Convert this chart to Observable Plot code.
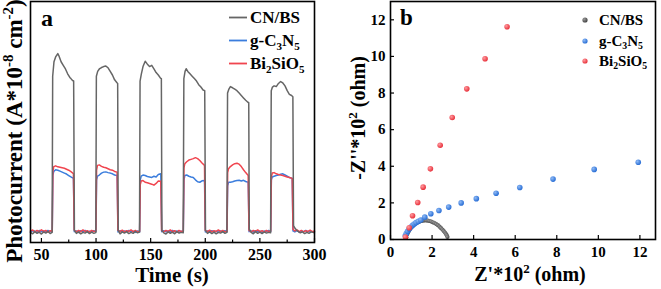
<!DOCTYPE html>
<html><head><meta charset="utf-8">
<script src="https://cdn.jsdelivr.net/npm/d3@7"></script>
<script src="https://cdn.jsdelivr.net/npm/@observablehq/plot@0.6"></script>
<style>
body{margin:0;background:#fff;}
#wrap{position:relative;width:661px;height:289px;overflow:hidden;background:#fff;}
#wrap svg{position:absolute;top:0;}
</style></head><body><div id="wrap"></div>
<script>
const FONT = '"Liberation Serif","Times New Roman",serif';
const seriesNames = ["CN/BS", "g-C3N5", "Bi2SiO5"];
const colors = ["#666666", "#3b7ddd", "#f0454f"];

// ---- Panel a: photocurrent (time s, current arbitrary units) ----
const timeTicks = [50, 100, 150, 200, 250, 300];
const timeMinorTicks = [75, 125, 175, 225, 275];
const cnbsCurrent = [
[40,0.42],[42,0.36],[44,0.45],[46,0.38],[48,0.43],[50,0.35],[52,0.44],[54,0.39],[56,0.46],[58,0.37],[59.8,0.42],
[60.3,6.9],[61.5,7.5],[63,7.7],[65,7.84],[66,7.75],[68,7.5],[70,7.35],[72,7.2],[74,7.0],[76,6.85],[77,6.8],[78.5,6.72],[79.5,6.7],
[80.2,0.5],[82,0.38],[84,0.44],[86,0.36],[88,0.42],[90,0.39],[92,0.45],[94,0.37],[96,0.43],[98,0.38],[99.8,0.41],
[100.3,6.9],[101.5,7.1],[103,7.2],[105,7.26],[107,7.3],[109,7.32],[111,7.25],[113,7.1],[115,6.95],[117,6.75],[119,6.64],[119.8,6.6],
[120.3,0.5],[122,0.36],[124,0.44],[126,0.39],[128,0.45],[130,0.37],[132,0.42],[134,0.38],[136,0.46],[138,0.4],[139.8,0.43],
[140.3,6.7],[141.5,7.0],[143,7.3],[145,7.52],[147,7.4],[149,7.3],[151,7.35],[153,7.2],[155,7.05],[157,6.95],[159,6.82],[159.8,6.8],
[160.3,0.5],[162,0.4],[164,0.35],[166,0.44],[168,0.38],[170,0.43],[172,0.36],[174,0.45],[176,0.39],[178,0.42],[179.8,0.4],
[180.4,6.8],[181.5,7.1],[182.5,7.21],[184,7.1],[186,7.0],[188,6.9],[190,6.8],[192,6.7],[194,6.55],[196,6.45],[198,6.33],[199.5,6.3],
[200.2,0.5],[202,0.38],[204,0.44],[206,0.37],[208,0.43],[210,0.36],[212,0.42],[214,0.39],[216,0.45],[218,0.38],[219.8,0.42],
[220.4,6.2],[221.5,6.35],[223,6.47],[225,6.42],[227,6.36],[229,6.3],[231,6.2],[233,6.1],[235,6.0],[237,5.9],[239,5.82],[239.8,5.8],
[240.3,0.55],[242,0.42],[244,0.36],[246,0.45],[248,0.38],[250,0.43],[252,0.37],[254,0.44],[256,0.39],[258,0.42],[259.8,0.4],
[260.4,6.3],[261.5,6.45],[263,6.5],[265,6.47],[267,6.6],[269,6.68],[271,6.62],[273,6.5],[275,6.3],[277,6.15],[279,6.1],[280.2,6.05],
[280.8,0.7],[282,0.6],[283.5,0.52],[285,0.46],[287,0.4],[289,0.44],[291,0.37],[293,0.42],[295,0.38],[297,0.44],[300,0.4]
];
const gc3n5Current = [
[40,0.44],[42,0.49],[44,0.47],[46,0.42],[48,0.5],[50,0.45],[52,0.48],[54,0.43],[56,0.5],[58,0.46],[59.9,0.45],
[60.5,2.8],[61.3,2.95],[63,3.02],[65,3.0],[67,2.96],[69,2.92],[71,2.88],[73,2.84],[75,2.78],[77,2.72],[79.3,2.66],
[80.1,0.45],[82,0.48],[84,0.42],[86,0.49],[88,0.44],[90,0.5],[92,0.43],[94,0.47],[96,0.44],[98,0.49],[99.9,0.45],
[100.5,2.6],[101.3,2.75],[103,2.8],[105,2.88],[107,2.92],[109,2.93],[111,2.9],[113,2.88],[115,2.85],[117,2.8],[119.3,2.78],
[120.1,0.44],[122,0.49],[124,0.43],[126,0.48],[128,0.45],[130,0.5],[132,0.44],[134,0.47],[136,0.42],[138,0.48],[139.9,0.45],
[140.5,2.6],[141.3,2.75],[143,2.8],[145,2.78],[147,2.74],[149,2.72],[151,2.7],[153,2.75],[155,2.72],[157,2.82],[159.3,2.85],
[160.1,0.45],[162,0.49],[164,0.44],[166,0.48],[168,0.43],[170,0.5],[172,0.45],[174,0.48],[176,0.42],[178,0.47],[179.9,0.45],
[180.5,2.6],[181.3,2.78],[183,2.8],[185,2.75],[187,2.72],[189,2.7],[191,2.6],[193,2.52],[195,2.5],[197,2.56],[199.3,2.57],
[200.1,0.44],[202,0.48],[204,0.43],[206,0.49],[208,0.45],[210,0.47],[212,0.42],[214,0.48],[216,0.44],[218,0.49],[219.9,0.45],
[220.5,2.35],[221.3,2.5],[223,2.5],[225,2.52],[227,2.55],[229,2.57],[231,2.58],[233,2.55],[235,2.58],[237,2.53],[239.3,2.5],
[240.1,0.45],[242,0.48],[244,0.43],[246,0.49],[248,0.44],[250,0.47],[252,0.42],[254,0.48],[256,0.45],[258,0.5],[259.9,0.45],
[260.5,2.6],[261.3,2.72],[263,2.75],[265,2.78],[267,2.8],[269,2.83],[271,2.85],[273,2.8],[275,2.75],[277,2.7],[279.6,2.66],
[280.3,0.48],[282,0.44],[284,0.49],[286,0.43],[288,0.47],[290,0.45],[292,0.5],[294,0.44],[296,0.48],[298,0.43],[300,0.46]
];
const bsCurrent = [
[40,0.47],[42,0.52],[44,0.44],[46,0.50],[48,0.45],[50,0.53],[52,0.46],[54,0.50],[56,0.43],[58,0.49],[59.9,0.47],
[60.5,2.95],[61.3,3.15],[63,3.18],[65,3.14],[67,3.12],[69,3.1],[71,3.08],[73,3.04],[75,3.0],[77,2.94],[79.3,2.86],
[80.0,0.52],[82,0.44],[84,0.5],[86,0.45],[88,0.52],[90,0.46],[92,0.49],[94,0.43],[96,0.5],[98,0.46],[99.9,0.48],
[100.5,3.0],[101.3,3.2],[103,3.22],[105,3.16],[107,3.12],[109,3.1],[111,3.06],[113,3.02],[115,3.0],[117,2.95],[119.3,2.92],
[120.0,0.5],[122,0.45],[124,0.51],[126,0.44],[128,0.49],[130,0.46],[132,0.52],[134,0.45],[136,0.5],[138,0.44],[139.9,0.47],
[140.5,2.4],[141.3,2.55],[143,2.57],[145,2.5],[147,2.48],[149,2.45],[151,2.42],[153,2.38],[155,2.45],[157,2.55],[159.3,2.54],
[160.0,0.5],[162,0.44],[164,0.5],[166,0.46],[168,0.52],[170,0.45],[172,0.49],[174,0.43],[176,0.5],[178,0.46],[179.9,0.48],
[180.5,3.1],[181.3,3.27],[183,3.35],[185,3.42],[187,3.45],[189,3.48],[191,3.52],[193,3.48],[195,3.4],[197,3.3],[199.3,3.2],
[200.0,0.5],[202,0.45],[204,0.51],[206,0.44],[208,0.49],[210,0.46],[212,0.52],[214,0.45],[216,0.5],[218,0.44],[219.9,0.47],
[220.5,2.9],[221.3,3.06],[223,3.15],[225,3.22],[227,3.27],[229,3.29],[231,3.25],[233,3.15],[235,3.02],[237,2.9],[239.3,2.78],
[240.0,0.5],[242,0.44],[244,0.5],[246,0.46],[248,0.52],[250,0.45],[252,0.49],[254,0.43],[256,0.5],[258,0.46],[259.9,0.48],
[260.5,2.7],[261.3,2.88],[263,2.9],[265,2.85],[267,2.82],[269,2.8],[271,2.78],[273,2.75],[275,2.72],[277,2.7],[279.6,2.66],
[280.3,0.55],[282,0.48],[284,0.52],[286,0.45],[288,0.5],[290,0.44],[292,0.49],[294,0.46],[296,0.51],[298,0.45],[300,0.48]
];

// ---- Panel b: Nyquist (Z'*10^2, -Z''*10^2 ohm) ----
const zTicks = [0, 2, 4, 6, 8, 10, 12];
const cnbsEIS = [
[0.76,0.12],[0.8,0.28],[0.85,0.4],[0.9,0.5],[0.96,0.6],[1.02,0.68],[1.09,0.76],[1.16,0.83],[1.24,0.89],[1.32,0.94],
[1.4,0.98],[1.48,1.01],[1.56,1.03],[1.64,1.04],[1.72,1.04],[1.8,1.03],[1.88,1.01],[1.96,0.98],[2.04,0.94],[2.12,0.9],
[2.2,0.84],[2.28,0.78],[2.36,0.7],[2.43,0.62],[2.5,0.54],[2.56,0.46],[2.62,0.38],[2.67,0.3],[2.71,0.22],[2.74,0.14]
];
const gc3n5EIS = [
[0.71,0.2],[0.76,0.32],[0.82,0.45],[0.9,0.58],[0.98,0.68],[1.06,0.77],[1.14,0.85],[1.23,0.92],[1.34,0.99],[1.46,1.06],
[1.65,1.22],[1.94,1.41],[2.33,1.58],[2.8,1.77],[3.4,2.0],[4.13,2.23],[5.08,2.53],[6.22,2.84],[7.82,3.3],[9.8,3.83],[11.92,4.22]
];
const bsEIS = [
[0.72,0.13],[0.9,0.64],[1.06,1.3],[1.31,2.02],[1.57,2.86],[1.92,3.86],[2.39,5.15],[2.97,6.66],[3.67,8.23],[4.55,9.87],[5.61,11.62]
];

const wrap = document.getElementById("wrap");

function richText(svg, {x, y, size, anchor = "start", rotate = false, parts}) {
  const t = d3.select(svg).append("text")
    .attr("font-family", FONT).attr("font-weight", "bold").attr("font-size", size)
    .attr("text-anchor", anchor).attr("fill", "black");
  if (rotate) t.attr("transform", `translate(${x},${y}) rotate(-90)`);
  else t.attr("x", x).attr("y", y);
  let shift = 0;
  for (const [s, k] of parts) {
    const target = k === "sup" ? -0.4 * size : k === "sub" ? 0.22 * size : 0;
    const ts = t.append("tspan").text(s).attr("dy", target - shift);
    if (k) ts.attr("font-size", size * 0.65);
    shift = target;
  }
}
const labelParts = [
  [["CN/BS", ""]],
  [["g-C", ""], ["3", "sub"], ["N", ""], ["5", "sub"]],
  [["Bi", ""], ["2", "sub"], ["SiO", ""], ["5", "sub"]]
];

// Panel a
const aTop = 1, aBottom = 47, aH = 289;
const aFrameH = aH - aTop - aBottom;
const lineOpts = (c) => ({x: d => d[0], y: d => d[1], stroke: c, strokeWidth: 1.5});
const plotA = Plot.plot({
  width: 320, height: aH, marginLeft: 30, marginRight: 6, marginTop: aTop, marginBottom: aBottom,
  style: {fontFamily: FONT, background: "transparent", overflow: "visible", color: "black"},
  x: {domain: [40, 300]},
  y: {domain: [0, 10], axis: null},
  marks: [
    Plot.line(gc3n5Current, lineOpts(colors[1])),
    Plot.line(bsCurrent, lineOpts(colors[2])),
    Plot.line(cnbsCurrent, lineOpts(colors[0])),
    Plot.ruleX(timeTicks, {x: d => d, insetTop: aFrameH - 4, stroke: "black", strokeWidth: 1.2}),
    Plot.ruleX(timeMinorTicks, {x: d => d, insetTop: aFrameH - 2.5, stroke: "black", strokeWidth: 1.2}),
    Plot.axisX({ticks: timeTicks, tickSize: 0, tickPadding: 6, fontSize: 16, fontWeight: "bold", label: null}),
    Plot.frame({stroke: "black", strokeWidth: 1.6})
  ]
});
plotA.style.left = "0px";
wrap.appendChild(plotA);
richText(plotA, {x: 41, y: 26, size: 24, parts: [["a", ""]]});
richText(plotA, {x: 172, y: 282, size: 21, anchor: "middle", parts: [["Time (s)", ""]]});
richText(plotA, {x: 22, y: 131, size: 23, anchor: "middle", rotate: true,
  parts: [["Photocurrent (A*10", ""], ["-8", "sup"], [" cm", ""], ["-2", "sup"], [")", ""]]});
{
  const g = d3.select(plotA);
  const ys = [17.5, 40.5, 63.5];
  ys.forEach((yy, i) => {
    g.append("line").attr("x1", 229).attr("x2", 247).attr("y1", yy).attr("y2", yy)
      .attr("stroke", colors[i]).attr("stroke-width", 1.8);
    richText(plotA, {x: 250, y: yy + 5.5, size: 17, parts: labelParts[i]});
  });
}

// Panel b
const bTop = 1, bBottom = 50, bH = 289, bLeft = 60, bRight = 6, bW = 331;
const bFrameH = bH - bTop - bBottom, bFrameW = bW - bLeft - bRight;
const dotOpts = (fill, r) => ({x: d => d[0], y: d => d[1], r, fill});
const plotB = Plot.plot({
  width: bW, height: bH, marginLeft: bLeft, marginRight: bRight, marginTop: bTop, marginBottom: bBottom,
  style: {fontFamily: FONT, background: "transparent", overflow: "visible", color: "black"},
  x: {domain: [0, 12.75]},
  y: {domain: [0, 13]},
  marks: [
    Plot.dot(cnbsEIS, dotOpts("url(#gGray)", 2.1)),
    Plot.dot(gc3n5EIS, dotOpts("url(#gBlue)", 2.8)),
    Plot.dot(bsEIS, dotOpts("url(#gRed)", 2.8)),
    Plot.ruleX(zTicks, {x: d => d, insetTop: bFrameH - 4, stroke: "black", strokeWidth: 1.2}),
    Plot.ruleY(zTicks, {y: d => d, insetRight: bFrameW - 4, stroke: "black", strokeWidth: 1.2}),
    Plot.axisX({ticks: zTicks, tickSize: 0, tickPadding: 7, fontSize: 15, fontWeight: "bold", label: null}),
    Plot.axisY({ticks: zTicks, tickSize: 0, tickPadding: 5, fontSize: 15, fontWeight: "bold", label: null}),
    Plot.frame({stroke: "black", strokeWidth: 1.6})
  ]
});
plotB.style.left = "330px";
wrap.appendChild(plotB);
{
  const defs = d3.select(plotB).insert("defs", ":first-child");
  const grads = [["gGray", "#9a9a9a", "#444"], ["gBlue", "#8fbaf5", "#2a6fd6"], ["gRed", "#ff9a9f", "#e8323c"]];
  for (const [id, c1, c2] of grads) {
    const rg = defs.append("radialGradient").attr("id", id).attr("cx", "35%").attr("cy", "35%").attr("r", "65%");
    rg.append("stop").attr("offset", "0%").attr("stop-color", c1);
    rg.append("stop").attr("offset", "100%").attr("stop-color", c2);
  }
}
richText(plotB, {x: 70, y: 25, size: 23, parts: [["b", ""]]});
richText(plotB, {x: 200, y: 281, size: 20, anchor: "middle", parts: [["Z'*10", ""], ["2", "sup"], [" (ohm)", ""]]});
richText(plotB, {x: 35, y: 118, size: 20, anchor: "middle", rotate: true,
  parts: [["-Z''*10", ""], ["2", "sup"], [" (ohm)", ""]]});
{
  const g = d3.select(plotB);
  const ys = [20, 41, 61];
  ys.forEach((yy, i) => {
    g.append("circle").attr("cx", 255).attr("cy", yy).attr("r", 2.6)
      .attr("fill", ["url(#gGray)", "url(#gBlue)", "url(#gRed)"][i]);
    richText(plotB, {x: 269, y: yy + 5, size: 15, parts: labelParts[i]});
  });
}
</script></body></html>
